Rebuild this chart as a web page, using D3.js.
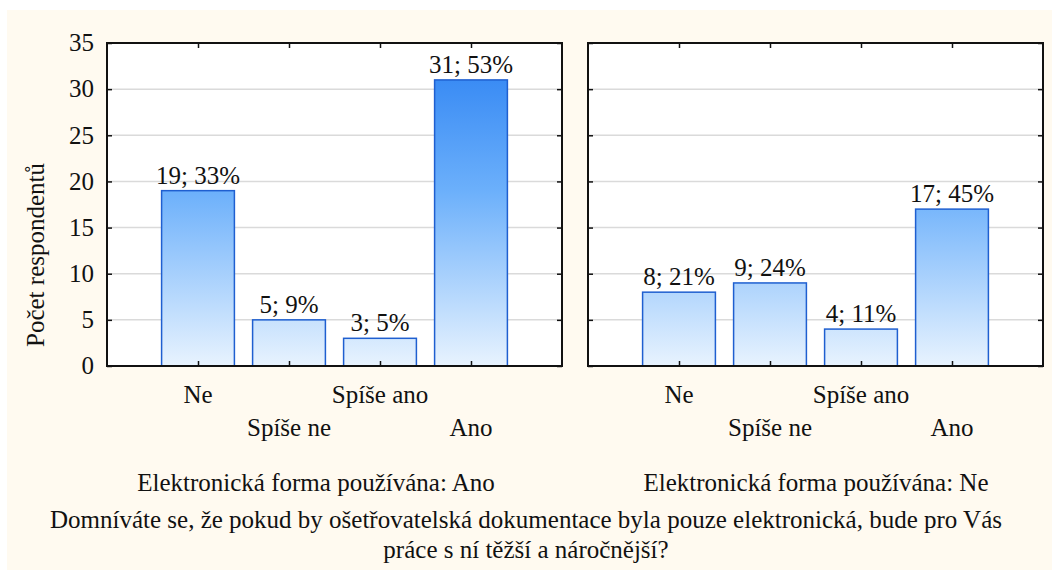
<!DOCTYPE html>
<html>
<head>
<meta charset="utf-8">
<script src="https://cdn.jsdelivr.net/npm/d3@7"></script>
<style>
  body { margin: 0; background: #fff; }
  svg text { font-family: "Liberation Serif", "Times New Roman", "DejaVu Serif", serif; fill: #111; }
</style>
</head>
<body>
<div id="chart"></div>
<script>
let categories = ["Ne", "Spíše ne", "Spíše ano", "Ano"]
let panelTitles = ["Elektronická forma používána: Ano", "Elektronická forma používána: Ne"]
let countsAno = [19, 5, 3, 31]
let pctAno = [33, 9, 5, 53]
let countsNe = [8, 9, 4, 17]
let pctNe = [21, 24, 11, 45]
let yTicks = [0, 5, 10, 15, 20, 25, 30, 35]
let yTitle = "Počet respondentů"
let titleLines = ["Domníváte se, že pokud by ošetřovatelská dokumentace byla pouze elektronická, bude pro Vás",
                  "práce s ní těžší a náročnější?"]

let width = 1052, height = 570
let plotTop = 43, plotBottom = 366
let panels = [
  {x0: 107, x1: 562, counts: countsAno, pct: pctAno, title: panelTitles[0], tx: 316},
  {x0: 588, x1: 1043, counts: countsNe, pct: pctNe, title: panelTitles[1], tx: 816}
]

let svg = d3.select('#chart').append('svg')
    .attr("width", width)
    .attr("height", height)
    .attr("font-family", "'Liberation Serif', 'Times New Roman', serif")

svg.append("rect")
    .attr("x", 7).attr("y", 10)
    .attr("width", width - 7).attr("height", height - 10)
    .attr("fill", "#fffaf0")

let y = d3.scaleLinear().domain([0, 35]).range([plotBottom, plotTop])

// gradient tied to the value axis, so taller bars get the darker top
let grad = svg.append("defs").append("linearGradient")
    .attr("id", "barGrad")
    .attr("gradientUnits", "userSpaceOnUse")
    .attr("x1", 0).attr("x2", 0)
    .attr("y1", y(0)).attr("y2", y(35))
grad.append("stop").attr("offset", "0%").attr("stop-color", "#e8f3fe")
grad.append("stop").attr("offset", "54%").attr("stop-color", "#6cb0fb")
grad.append("stop").attr("offset", "100%").attr("stop-color", "#2a80f2")

panels.forEach(p => {
  let x = d3.scalePoint().domain(categories).range([p.x0, p.x1]).padding(1)
  let bw = x.step() * 0.8

  let g = svg.append("g")

  g.append("rect")
      .attr("x", p.x0).attr("y", plotTop)
      .attr("width", p.x1 - p.x0).attr("height", plotBottom - plotTop)
      .attr("fill", "#fff")

  // grid
  g.selectAll(".grid").data(yTicks.filter(t => t > 0 && t < 35)).enter()
    .append("line")
      .attr("x1", p.x0).attr("x2", p.x1)
      .attr("y1", d => y(d)).attr("y2", d => y(d))
      .attr("stroke", "#dadada").attr("stroke-width", 1.5)

  let data = categories.map((c, i) => ({cat: c, v: p.counts[i], pct: p.pct[i], i: i}))

  g.selectAll(".bar").data(data).enter()
    .append("rect")
      .attr("x", d => x(d.cat) - bw / 2)
      .attr("y", d => y(d.v))
      .attr("width", bw)
      .attr("height", d => y(0) - y(d.v))
      .attr("fill", "url(#barGrad)")
      .attr("stroke", "#1f5fd0").attr("stroke-width", 1.5)

  g.selectAll(".lbl").data(data).enter()
    .append("text")
      .attr("x", d => x(d.cat))
      .attr("y", d => y(d.v) - 7)
      .attr("text-anchor", "middle")
      .attr("font-size", 25)
      .text(d => d.v + "; " + d.pct + "%")

  // axes with inward ticks on all four sides
  g.append("g").attr("transform", "translate(0," + plotBottom + ")")
      .call(d3.axisTop(x).tickSize(5).tickFormat(""))
  g.append("g").attr("transform", "translate(0," + plotTop + ")")
      .call(d3.axisBottom(x).tickSize(5).tickFormat(""))
  g.append("g").attr("transform", "translate(" + p.x0 + ",0)")
      .call(d3.axisRight(y).tickValues(yTicks).tickSize(5).tickFormat(""))
  g.append("g").attr("transform", "translate(" + p.x1 + ",0)")
      .call(d3.axisLeft(y).tickValues(yTicks).tickSize(5).tickFormat(""))
  g.selectAll(".domain").remove()
  g.selectAll(".tick line").attr("stroke", "#111").attr("stroke-width", 1.5)

  g.append("rect")
      .attr("x", p.x0).attr("y", plotTop)
      .attr("width", p.x1 - p.x0).attr("height", plotBottom - plotTop)
      .attr("fill", "none").attr("stroke", "#111").attr("stroke-width", 2)

  g.selectAll(".cat").data(data).enter()
    .append("text")
      .attr("x", d => x(d.cat))
      .attr("y", d => d.i % 2 == 0 ? 403 : 436)
      .attr("text-anchor", "middle")
      .attr("font-size", 25)
      .text(d => d.cat)

  g.append("text")
      .attr("x", p.tx)
      .attr("y", 491)
      .attr("text-anchor", "middle")
      .attr("font-size", 25)
      .text(p.title)
})

// y axis labels (left panel only)
svg.append("g").selectAll("text").data(yTicks).enter()
  .append("text")
    .attr("x", 94)
    .attr("y", d => y(d))
    .attr("dy", "0.33em")
    .attr("text-anchor", "end")
    .attr("font-size", 25)
    .text(d => d)

svg.append("text")
    .attr("transform", "translate(44,255) rotate(-90)")
    .attr("text-anchor", "middle")
    .attr("font-size", 25)
    .text(yTitle)

svg.selectAll(".title").data(titleLines).enter()
  .append("text")
    .attr("x", 526)
    .attr("y", (d, i) => 528 + i * 30)
    .attr("text-anchor", "middle")
    .attr("font-size", 25)
    .text(d => d)
</script>
</body>
</html>
